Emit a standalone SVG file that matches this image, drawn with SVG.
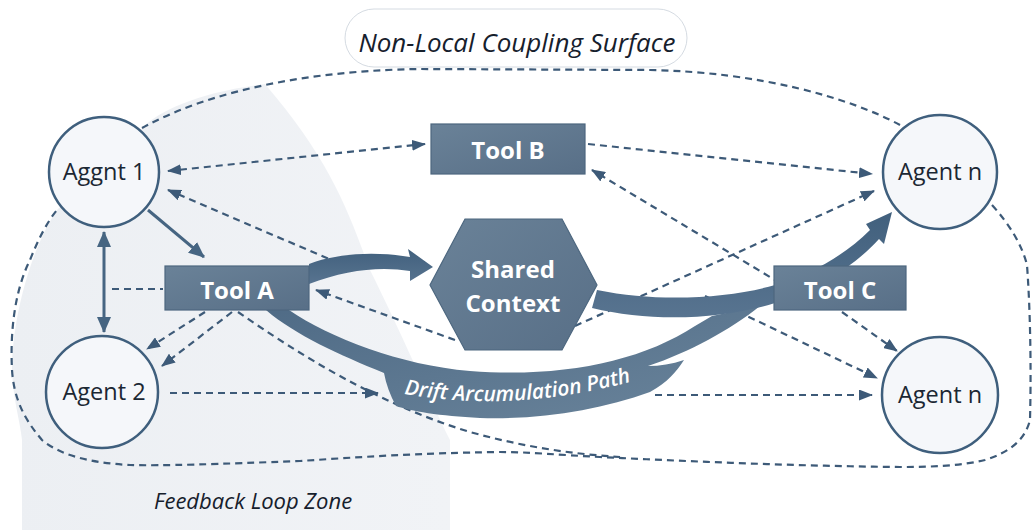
<svg xmlns="http://www.w3.org/2000/svg" width="1032" height="530" viewBox="0 0 1032 530">
  <defs>
    <style>
      .dash { fill: none; stroke: #3d5a78; stroke-width: 2.2; stroke-dasharray: 7 5; }
      .solid { fill: none; stroke: #466582; stroke-width: 3; }
      .agent circle { fill: #f5f7fa; stroke: #3f5f7d; stroke-width: 2.5; }
      .agent text { font-family: "Open Sans", "Noto Sans", sans-serif; font-size: 23.5px; fill: #1b2733; text-anchor: middle; }
      .tool rect, .tool polygon { fill: url(#nodeFill); stroke: #4d677f; stroke-width: 1.2; }
      .tool text { font-family: "Open Sans", "Noto Sans", sans-serif; font-size: 24px; font-weight: bold; fill: #ffffff; text-anchor: middle; }
      .caption { font-family: "Open Sans", "Noto Sans", sans-serif; font-style: italic; fill: #16202c; }
    </style>
    <linearGradient id="nodeFill" x1="0" y1="0" x2="1" y2="1">
      <stop offset="0" stop-color="#6a8298"/>
      <stop offset="1" stop-color="#586f87"/>
    </linearGradient>
    <linearGradient id="bandFill" x1="0" y1="0" x2="0" y2="1">
      <stop offset="0" stop-color="#41607d"/>
      <stop offset="1" stop-color="#587490"/>
    </linearGradient>
    <linearGradient id="ribbonFill" x1="0" y1="0" x2="1" y2="1">
      <stop offset="0" stop-color="#4f6b86"/>
      <stop offset="1" stop-color="#6a849b"/>
    </linearGradient>
    <linearGradient id="zoneFill" x1="0" y1="0" x2="1" y2="0">
      <stop offset="0" stop-color="#eceff3"/>
      <stop offset="1" stop-color="#f1f3f6"/>
    </linearGradient>
    <marker id="ah" viewBox="0 0 14 11" refX="13" refY="5.5" markerWidth="14" markerHeight="11" markerUnits="userSpaceOnUse" orient="auto-start-reverse">
      <path d="M0,0 L14,5.5 L0,11 Z" fill="#3d5a78"/>
    </marker>
    <marker id="ahBig" viewBox="0 0 16 14" refX="15" refY="7" markerWidth="16" markerHeight="14" markerUnits="userSpaceOnUse" orient="auto-start-reverse">
      <path d="M0,0 L16,7 L0,14 Z" fill="#466582"/>
    </marker>
  </defs>

  <rect width="1032" height="530" fill="#ffffff"/>

  <!-- shaded feedback loop zone -->
  <path d="M265,84 C200,92 160,110 142,128 L57,210 C30,250 12,320 12,370 C13,400 20,420 22,440 L22,530 L450,530 L450,440 C430,400 400,330 370,270 C348,210 330,160 265,84 Z" fill="url(#zoneFill)"/>

  <!-- coupling surface boundary -->
  <path class="dash" d="M142,128 C220,85 330,70 420,69 L650,70 C760,72 850,98 900,125"/>
  <path class="dash" d="M992,205 C1010,225 1022,245 1027,265 C1031,320 1031,380 1030,420 C1025,440 1010,452 985,460 C960,466 930,467 900,467 C800,466 700,462 600,457 C560,455 530,452 500,452 C420,453 360,457 300,461 C220,464 160,466 130,465 C90,463 60,455 42,440 C25,420 14,400 12,370 C10,330 15,290 30,260 C38,240 47,222 57,210"/>

  <!-- title -->
  <rect x="345" y="9" width="342" height="58" rx="29" fill="#ffffff" stroke="#d5dbe2" stroke-width="1"/>
  <text class="caption" x="517" y="52" font-size="26" text-anchor="middle">Non-Local Coupling Surface</text>
  <text class="caption" x="253" y="509" font-size="22" text-anchor="middle">Feedback Loop Zone</text>

  <!-- connectors -->
  <g id="connectors">
    <path class="dash" d="M168,171 L425,144" marker-start="url(#ah)" marker-end="url(#ah)"/>
    <path class="dash" d="M588,144 L872,174" marker-end="url(#ah)"/>
    <path class="dash" d="M350,268 L168,190" marker-end="url(#ah)"/>
    <path class="dash" d="M112,289 L163,289"/>
    <path class="dash" d="M205,312 L147,349" marker-end="url(#ah)"/>
    <path class="dash" d="M232,312 L162,366" marker-end="url(#ah)"/>
    <path class="dash" d="M238,312 C300,355 380,405 470,432 C520,446 570,454 620,457"/>
    <path class="dash" d="M170,393 L378,393" marker-end="url(#ah)"/>
    <path class="dash" d="M655,395 L872,395" marker-end="url(#ah)"/>
    <path class="dash" d="M455,340 L316,290" marker-end="url(#ah)"/>
    <path class="dash" d="M842,312 L897,351" marker-end="url(#ah)"/>
    <path class="dash" d="M705,296 L877,378" marker-end="url(#ah)"/>
    <path class="dash" d="M575,326 L874,191" marker-end="url(#ah)"/>
    <path class="dash" d="M780,283 L592,170" marker-end="url(#ah)"/>
    <path class="solid" d="M148,210 L204,257" marker-end="url(#ahBig)"/>
    <path class="solid" d="M104,232 L104,332" marker-start="url(#ahBig)" marker-end="url(#ahBig)"/>

    <!-- drift accumulation ribbon -->
    <path d="M266,310 L289,310 C330,338 400,365 470,371 C560,378 640,362 695,326 L712,316 L760,306 C730,330 690,352 648,366 C660,366 672,364 684,360 C676,372 668,382 650,392 C600,410 540,420 480,418 C440,416 410,411 396,406 C390,395 386,384 384,373 C340,355 295,335 266,310 Z" fill="url(#ribbonFill)"/>
    <path id="driftLabel" d="M404,394 Q520,414 644,378" fill="none"/>
    <text class="caption" font-size="21" font-weight="600" style="fill:#ffffff"><textPath href="#driftLabel">Drift Arcumulation Path</textPath></text>

    <!-- Tool A to shared context -->
    <path d="M309,264 C340,252 380,252 410,257 L408,249 L433,267 L410,281 L410,271 C380,266 345,270 309,284 Z" fill="url(#bandFill)"/>
    <!-- shared context to Agent n -->
    <path d="M597,290 C660,303 730,298 775,285 C810,275 845,255 870,230 L866,224 L892,212 L884,244 L879,239 C855,265 825,285 775,303 C720,320 650,322 592,308 Z" fill="url(#bandFill)"/>
  </g>

  <!-- tools -->
  <g id="tool-a" class="tool">
    <rect x="165" y="266" width="144" height="44"/>
    <text x="237" y="299">Tool A</text>
  </g>
  <g id="tool-b" class="tool">
    <rect x="431" y="124" width="154" height="50"/>
    <text x="508" y="159" font-size="25">Tool B</text>
  </g>
  <g id="tool-c" class="tool">
    <rect x="774" y="266" width="132" height="44"/>
    <text x="840" y="299">Tool C</text>
  </g>
  <g id="shared-context" class="tool">
    <polygon points="465,219 562,219 597,285 562,350 465,350 430,285"/>
    <text x="513" y="278">Shared</text>
    <text x="513" y="312">Context</text>
  </g>

  <!-- agents -->
  <g id="agent-1" class="agent">
    <circle cx="104" cy="172" r="55"/>
    <text x="104" y="180">Aggnt 1</text>
  </g>
  <g id="agent-2" class="agent">
    <circle cx="102" cy="392" r="56"/>
    <text x="104" y="400">Agent 2</text>
  </g>
  <g id="agent-n-top" class="agent">
    <circle cx="940" cy="172" r="57"/>
    <text x="940" y="180">Agent n</text>
  </g>
  <g id="agent-n-bottom" class="agent">
    <circle cx="940" cy="395" r="58"/>
    <text x="940" y="403">Agent n</text>
  </g>
</svg>
